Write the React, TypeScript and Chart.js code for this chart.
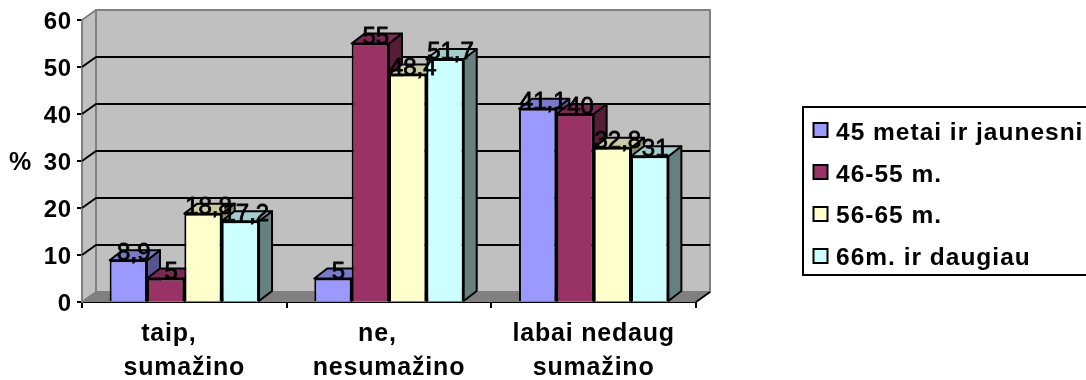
import React, { useEffect, useRef } from "react";
import { Chart, registerables } from "chart.js";

Chart.register(...registerables);

const categories = [["taip,    ", "sumažino"], ["ne,   ", "nesumažino"], ["labai nedaug", "sumažino"]];
const seriesNames = ["45 metai ir jaunesni", "46-55 m.", "56-65 m.", "66m. ir daugiau"];
const young = [8.9, 5, 41.1];
const middle = [5, 55, 40];
const senior = [18.8, 48.4, 32.8];
const oldest = [17.2, 51.7, 31];
const frontColors = ["#9999ff", "#993366", "#ffffcc", "#ccffff"];
const topColors = ["#7a7acc", "#7a2952", "#cccca3", "#a3cccc"];
const sideColors = ["#55558f", "#561d39", "#8f8f72", "#668080"];

const FONT = '"Liberation Sans", Arial, sans-serif';
const WALL_DX = 14;
const WALL_DY = 10;
const BAR_DX = 13;
const BAR_DY = 10;

function poly(ctx: CanvasRenderingContext2D, pts: number[][], fill: string, stroke?: string, lw = 2) {
  ctx.beginPath();
  pts.forEach((p, i) => (i ? ctx.lineTo(p[0], p[1]) : ctx.moveTo(p[0], p[1])));
  ctx.closePath();
  ctx.fillStyle = fill;
  ctx.fill();
  if (stroke) {
    ctx.strokeStyle = stroke;
    ctx.lineWidth = lw;
    ctx.lineJoin = "round";
    ctx.stroke();
  }
}

const roomPlugin = {
  id: "room",
  // Axis text is slightly tracked out.
  beforeDraw(chart: any) {
    chart.ctx.letterSpacing = "0.8px";
  },
  // Back wall, side wall, floor and gridlines, then the depth faces of every bar
  // from the first series to the last so that each neighbour hides the one before.
  beforeDatasetsDraw(chart: any) {
    const { ctx, chartArea: a, scales } = chart;
    const y = scales.y;
    ctx.save();
    const dx = WALL_DX;
    const dy = WALL_DY;
    poly(ctx, [[a.left + dx, a.top - dy], [a.right + dx, a.top - dy], [a.right + dx, a.bottom - dy], [a.left + dx, a.bottom - dy]], "#c0c0c0", "#808080", 2);
    poly(ctx, [[a.left, a.top], [a.left + dx, a.top - dy], [a.left + dx, a.bottom - dy], [a.left, a.bottom]], "#c0c0c0", "#808080", 2);
    poly(ctx, [[a.left, a.bottom], [a.left + dx, a.bottom - dy], [a.right + dx, a.bottom - dy], [a.right, a.bottom]], "#808080");
    ctx.strokeStyle = "#000";
    ctx.lineWidth = 2;
    y.ticks.forEach((t: any) => {
      const py = y.getPixelForValue(t.value);
      if (t.value > 0 && t.value < 60) {
        ctx.beginPath();
        ctx.moveTo(a.left, py);
        ctx.lineTo(a.left + dx, py - dy);
        ctx.lineTo(a.right + dx, py - dy);
        ctx.stroke();
      }
    });
    ctx.beginPath();
    ctx.moveTo(a.right, a.bottom);
    ctx.lineTo(a.right + dx, a.bottom - dy);
    ctx.stroke();

    chart.data.datasets.forEach((_: any, i: number) => {
      chart.getDatasetMeta(i).data.forEach((bar: any) => {
        const half = bar.width / 2;
        const l = bar.x - half;
        const r = bar.x + half;
        const t = bar.y;
        const b = bar.base;
        poly(ctx, [[r, t], [r + BAR_DX, t - BAR_DY], [r + BAR_DX, b - BAR_DY], [r, b]], sideColors[i], "#000", 2);
        poly(ctx, [[l, t], [l + BAR_DX, t - BAR_DY], [r + BAR_DX, t - BAR_DY], [r, t]], topColors[i], "#000", 2);
      });
    });
    ctx.restore();
  },
  // Value labels, the unit beside the axis and the legend panel.
  afterDraw(chart: any) {
    const { ctx } = chart;
    ctx.save();
    ctx.letterSpacing = "0px";
    ctx.fillStyle = "#000";
    ctx.strokeStyle = "#000";
    ctx.textBaseline = "alphabetic";
    ctx.textAlign = "center";
    ctx.font = `24px ${FONT}`;
    ctx.lineWidth = 0.8;
    chart.data.datasets.forEach((ds: any, i: number) => {
      chart.getDatasetMeta(i).data.forEach((bar: any, j: number) => {
        const text = String(ds.data[j]).replace(".", ",");
        ctx.fillText(text, bar.x + 5.5, bar.y);
        ctx.strokeText(text, bar.x + 5.5, bar.y);
      });
    });
    ctx.textAlign = "left";
    ctx.font = `bold 25px ${FONT}`;
    ctx.fillText("%", 9, 170);

    ctx.lineWidth = 2;
    ctx.strokeRect(803, 107, 300, 168);
    const boxTops = [123, 165, 207, 249];
    const baselines = [140, 182, 223, 265];
    ctx.letterSpacing = "1px";
    ctx.font = `bold 24.5px ${FONT}`;
    chart.data.datasets.forEach((ds: any, i: number) => {
      ctx.fillStyle = frontColors[i];
      ctx.fillRect(813.5, boxTops[i], 14, 14);
      ctx.strokeRect(813.5, boxTops[i], 14, 14);
      ctx.fillStyle = "#000";
      ctx.fillText(ds.label, 836, baselines[i]);
    });
    ctx.restore();
  },
};

export default function App() {
  const ref = useRef<HTMLCanvasElement>(null);
  useEffect(() => {
    const values = [young, middle, senior, oldest];
    const chart = new Chart(ref.current!, {
      type: "bar",
      data: {
        labels: categories,
        datasets: seriesNames.map((label, i) => ({
          label,
          data: values[i],
          backgroundColor: frontColors[i],
          borderColor: "#000",
          borderWidth: 2,
        })),
      },
      options: {
        animation: false,
        responsive: false,
        layout: { padding: { left: 0, top: 20, right: 390, bottom: 0 } },
        plugins: { legend: { display: false }, tooltip: { enabled: false } },
        datasets: { bar: { categoryPercentage: 0.73, barPercentage: 1 } },
        scales: {
          x: {
            grid: { offset: true, drawOnChartArea: false, color: "#000", lineWidth: 2, tickLength: 6 },
            border: { color: "#000", width: 2 },
            ticks: {
              color: "#000",
              maxRotation: 0,
              autoSkip: false,
              padding: 9,
              font: { family: FONT, size: 25, weight: "bold", lineHeight: 1.36 },
            },
            afterFit(s: any) { s.height = 78; },
          },
          y: {
            min: 0,
            max: 60,
            grid: { drawOnChartArea: false, color: "#000", lineWidth: 2, tickLength: 5 },
            border: { color: "#000", width: 2 },
            ticks: {
              stepSize: 10,
              color: "#000",
              padding: 5,
              labelOffset: 2,
              font: { family: FONT, size: 24, weight: "bold" },
            },
            afterFit(s: any) { s.width = 82; },
          },
        },
      },
      plugins: [roomPlugin],
    } as any);
    return () => chart.destroy();
  }, []);
  return (
    <div style={{ position: "fixed", inset: 0, background: "#fff" }}>
      <canvas ref={ref} width={1086} height={380} style={{ display: "block" }} />
    </div>
  );
}
